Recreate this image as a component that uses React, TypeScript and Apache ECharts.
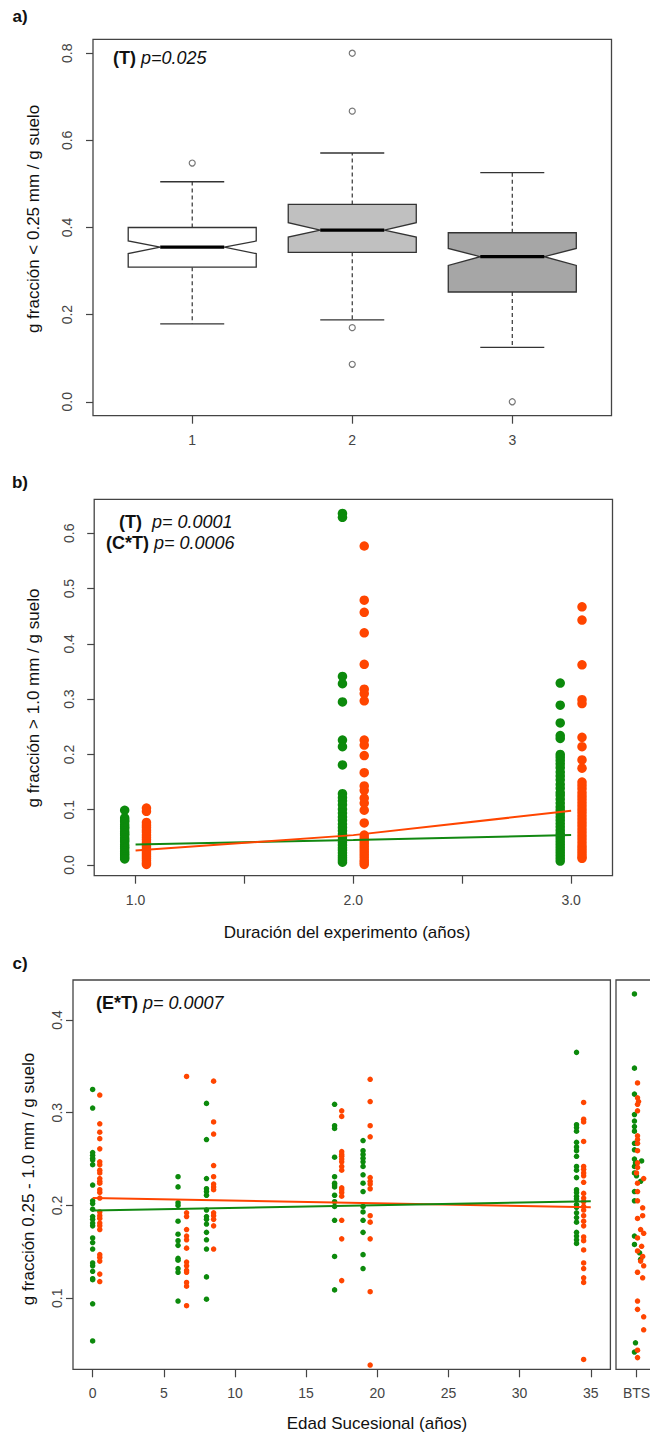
import React, { useEffect, useRef } from "react";
import * as echarts from "echarts";

const FONT = "'Liberation Sans', Arial, sans-serif";
const GREEN = "#0c8a0c";
const ORANGE = "#ff4500";
const FRAME = "#444444";
const TICKTXT = "#444444";

// ---------- Panel a: notched boxplots ----------
const boxPositions = [1, 2, 3];
const boxWhiskerLow = [0.179, 0.188, 0.125];
const boxQ1 = [0.309, 0.343, 0.252];
const boxMedian = [0.355, 0.394, 0.333];
const boxQ3 = [0.4, 0.453, 0.388];
const boxWhiskerHigh = [0.505, 0.571, 0.526];
const boxNotchLow = [0.34, 0.378, 0.313];
const boxNotchHigh = [0.369, 0.411, 0.352];
const boxFill = ["#ffffff", "#c0c0c0", "#a6a6a6"];
const outlierGroup = [1, 2, 2, 2, 2, 3];
const outlierValue = [0.548, 0.8, 0.667, 0.17, 0.086, 0.0];
const aYTicks = [0, 0.2, 0.4, 0.6, 0.8];

// ---------- Panel b: > 1.0 mm fraction vs duration ----------
const bGreen1 = [0.099, 0.085, 0.081, 0.078, 0.073, 0.069, 0.066, 0.061, 0.057, 0.054, 0.049, 0.045, 0.042, 0.037, 0.033, 0.03, 0.025, 0.021, 0.018, 0.014, 0.011];
const bOrange1 = [0.103, 0.097, 0.077, 0.072, 0.068, 0.063, 0.059, 0.054, 0.05, 0.046, 0.041, 0.037, 0.033, 0.028, 0.024, 0.02, 0.016, 0.012, 0.008, 0.004, 0.001];
const bGreen2 = [0.636, 0.629, 0.341, 0.328, 0.295, 0.226, 0.214, 0.181, 0.129, 0.122, 0.116, 0.109, 0.101, 0.094, 0.087, 0.081, 0.074, 0.068, 0.062, 0.056, 0.051, 0.046, 0.041, 0.036, 0.031, 0.027, 0.022, 0.017, 0.013, 0.009, 0.005];
const bOrange2 = [0.577, 0.479, 0.457, 0.42, 0.363, 0.318, 0.31, 0.297, 0.226, 0.217, 0.198, 0.167, 0.143, 0.135, 0.121, 0.112, 0.099, 0.076, 0.054, 0.049, 0.044, 0.039, 0.034, 0.029, 0.024, 0.019, 0.014, 0.009, 0.005, 0.001];
const bGreen3 = [0.329, 0.289, 0.257, 0.234, 0.229, 0.2, 0.195, 0.189, 0.183, 0.176, 0.168, 0.161, 0.154, 0.146, 0.139, 0.131, 0.126, 0.119, 0.112, 0.105, 0.099, 0.093, 0.087, 0.081, 0.075, 0.069, 0.063, 0.057, 0.052, 0.047, 0.042, 0.037, 0.032, 0.027, 0.022, 0.017, 0.012, 0.007];
const bOrange3 = [0.467, 0.443, 0.362, 0.299, 0.292, 0.231, 0.214, 0.19, 0.175, 0.15, 0.144, 0.138, 0.131, 0.125, 0.119, 0.113, 0.107, 0.101, 0.095, 0.089, 0.083, 0.077, 0.071, 0.065, 0.059, 0.053, 0.047, 0.041, 0.035, 0.03, 0.025, 0.02, 0.015, 0.012];
const bGreenX = [0.95, 1.95, 2.95];
const bOrangeX = [1.05, 2.05, 3.05];
const bGreenFit = [[1, 0.037], [2, 0.045], [3, 0.054]];
const bOrangeFit = [[1, 0.026], [2, 0.054], [3, 0.098]];
const bXTicks = [1, 1.5, 2, 2.5, 3];
const bXLabels = [1, 2, 3];
const bYTicks = [0, 0.1, 0.2, 0.3, 0.4, 0.5, 0.6];

// ---------- Panel c: 0.25 - 1.0 mm fraction vs successional age ----------
const cGreenX = [0, 6, 8, 17, 19, 34];
const cOrangeX = [0.5, 6.6, 8.5, 17.5, 19.5, 34.5];
const cGreenVals = [
  [0.325, 0.305, 0.257, 0.254, 0.251, 0.249, 0.244, 0.222, 0.205, 0.202, 0.196, 0.188, 0.185, 0.181, 0.178, 0.165, 0.16, 0.153, 0.138, 0.135, 0.129, 0.121, 0.12, 0.094, 0.054],
  [0.231, 0.22, 0.203, 0.2, 0.183, 0.169, 0.162, 0.157, 0.143, 0.141, 0.132, 0.128, 0.097],
  [0.31, 0.271, 0.229, 0.218, 0.215, 0.211, 0.195, 0.188, 0.185, 0.18, 0.171, 0.163, 0.153, 0.123, 0.099],
  [0.309, 0.286, 0.283, 0.252, 0.231, 0.224, 0.222, 0.22, 0.211, 0.204, 0.199, 0.184, 0.145, 0.109],
  [0.27, 0.259, 0.255, 0.251, 0.247, 0.242, 0.233, 0.224, 0.215, 0.199, 0.193, 0.184, 0.171, 0.147, 0.132],
  [0.365, 0.287, 0.284, 0.28, 0.268, 0.263, 0.259, 0.253, 0.242, 0.238, 0.23, 0.217, 0.214, 0.21, 0.207, 0.201, 0.198, 0.192, 0.187, 0.182, 0.171, 0.167, 0.163, 0.159],
];
const cOrangeVals = [
  [0.319, 0.288, 0.279, 0.272, 0.261, 0.247, 0.244, 0.238, 0.235, 0.229, 0.226, 0.224, 0.217, 0.214, 0.208, 0.193, 0.189, 0.186, 0.181, 0.178, 0.174, 0.147, 0.144, 0.14, 0.126, 0.118],
  [0.339, 0.192, 0.188, 0.174, 0.167, 0.163, 0.154, 0.139, 0.135, 0.13, 0.128, 0.117, 0.113, 0.092],
  [0.334, 0.29, 0.277, 0.243, 0.231, 0.223, 0.22, 0.217, 0.192, 0.189, 0.185, 0.178, 0.153],
  [0.302, 0.296, 0.258, 0.255, 0.253, 0.25, 0.247, 0.242, 0.238, 0.219, 0.217, 0.214, 0.21, 0.184, 0.164, 0.119],
  [0.336, 0.312, 0.286, 0.274, 0.23, 0.226, 0.223, 0.218, 0.189, 0.182, 0.164, 0.107, 0.028],
  [0.311, 0.293, 0.29, 0.269, 0.242, 0.239, 0.235, 0.232, 0.225, 0.213, 0.208, 0.204, 0.199, 0.195, 0.189, 0.183, 0.178, 0.166, 0.162, 0.152, 0.138, 0.132, 0.122, 0.117, 0.034],
];
const cGreenFit = [[0, 0.1945], [35, 0.2045]];
const cOrangeFit = [[0, 0.208], [35, 0.198]];
const cXTicks = [0, 5, 10, 15, 20, 25, 30, 35];
const cYTicks = [0.1, 0.2, 0.3, 0.4];

// BTS reference plot (jittered positions, x in BTS panel units, tick at 1)
const btsGreen = [
  [0.9, 0.428], [0.9, 0.348], [0.9, 0.32], [0.9, 0.298], [0.9, 0.291], [0.9, 0.285], [0.9, 0.28], [0.9, 0.267], [0.9, 0.26], [0.9, 0.25],
  [0.95, 0.246], [1.25, 0.248], [0.9, 0.242], [0.9, 0.235], [1.0, 0.232], [1.2, 0.226], [0.9, 0.215], [0.9, 0.205], [0.9, 0.167], [0.9, 0.158],
  [1.15, 0.149], [1.2, 0.142], [0.95, 0.052], [0.9, 0.042],
];
const btsOrange = [
  [1.05, 0.332], [1.05, 0.316], [1.1, 0.312], [1.05, 0.309], [1.05, 0.302], [1.05, 0.275], [1.05, 0.271], [1.05, 0.267], [1.05, 0.259], [1.05, 0.246],
  [1.05, 0.241], [1.0, 0.235], [1.35, 0.229], [1.05, 0.224], [1.05, 0.215], [1.05, 0.205], [1.3, 0.1975], [1.05, 0.186], [1.3, 0.189], [1.2, 0.174],
  [1.35, 0.17], [1.05, 0.165], [1.25, 0.156], [1.05, 0.151], [1.3, 0.145], [1.2, 0.14], [1.35, 0.135], [1.05, 0.128], [1.3, 0.122], [1.05, 0.097],
  [1.05, 0.088], [1.35, 0.08], [1.35, 0.066], [1.05, 0.044], [1.05, 0.036],
];

const fmt1 = (v: number) => Number(v).toFixed(1);

function xAxisCfg(gridIndex: number, min: number, max: number, ticks: number[], labels: number[], formatter: any) {
  return {
    type: "value",
    gridIndex,
    min,
    max,
    axisLine: { show: false, onZero: false },
    splitLine: { show: false },
    axisTick: { show: true, customValues: ticks, length: 8, inside: false, lineStyle: { color: FRAME, width: 1.2 } },
    axisLabel: { show: true, customValues: labels, margin: 17, fontSize: 14, color: TICKTXT, fontFamily: FONT, formatter },
  };
}

function yAxisCfg(gridIndex: number, min: number, max: number, ticks: number[], margin: number, show = true) {
  return {
    type: "value",
    gridIndex,
    min,
    max,
    axisLine: { show: false, onZero: false },
    splitLine: { show: false },
    axisTick: { show, customValues: ticks, length: 7, inside: false, lineStyle: { color: FRAME, width: 1.2 } },
    axisLabel: { show, customValues: ticks, rotate: 90, margin, fontSize: 14, color: TICKTXT, fontFamily: FONT, formatter: fmt1 },
  };
}

function gridCfg(left: number, top: number, width: number, height: number) {
  return { left, top, width, height, show: true, borderColor: FRAME, borderWidth: 1.3, backgroundColor: "transparent", containLabel: false };
}

function scatter(name: string, xi: number, data: number[][], color: string, size: number) {
  return {
    name,
    type: "scatter",
    xAxisIndex: xi,
    yAxisIndex: xi,
    data,
    symbol: "circle",
    symbolSize: size,
    itemStyle: { color, opacity: 1 },
    z: 2,
  };
}

function fitLine(name: string, xi: number, data: number[][], color: string) {
  return {
    name,
    type: "line",
    xAxisIndex: xi,
    yAxisIndex: xi,
    data,
    showSymbol: false,
    symbol: "none",
    lineStyle: { color, width: 2 },
    z: 4,
  };
}

function textEl(text: string, x: number, y: number, size: number, extra: any = {}, rotation = 0) {
  return {
    type: "text",
    x,
    y,
    rotation,
    style: {
      text,
      fill: "#111",
      fontSize: size,
      fontFamily: FONT,
      align: "center",
      verticalAlign: "middle",
      ...extra,
    },
  };
}

function richText(text: string, x: number, y: number) {
  return {
    type: "text",
    x,
    y,
    style: {
      text,
      fill: "#111",
      fontSize: 18,
      fontFamily: FONT,
      align: "left",
      verticalAlign: "middle",
      rich: {
        b: { fontWeight: "bold", fontSize: 18, fontFamily: FONT, fill: "#111" },
        i: { fontStyle: "italic", fontSize: 18, fontFamily: FONT, fill: "#111" },
      },
    },
  };
}

export default function App() {
  const ref = useRef<HTMLDivElement>(null);

  useEffect(() => {
    document.body.style.margin = "0";
    document.body.style.overflow = "hidden";
    if (!ref.current) return;
    const chart = echarts.init(ref.current, undefined, { renderer: "svg" });

    const boxData = boxPositions.map((p, i) => [
      p, boxWhiskerLow[i], boxQ1[i], boxMedian[i], boxQ3[i], boxWhiskerHigh[i], boxNotchLow[i], boxNotchHigh[i],
    ]);

    const series: any[] = [];

    // Panel a
    series.push({
      name: "boxes",
      type: "custom",
      xAxisIndex: 0,
      yAxisIndex: 0,
      data: boxData,
      encode: { x: 0, y: [1, 2, 3, 4, 5] },
      renderItem: (params: any, api: any) => {
        const i = params.dataIndex;
        const x = api.value(0);
        const lo = api.value(1), q1 = api.value(2), med = api.value(3), q3 = api.value(4), hi = api.value(5);
        const nl = api.value(6), nh = api.value(7);
        const c = (a: number, b: number) => api.coord([a, b]);
        const hw = 0.4, nw = 0.2, cw = 0.2;
        const poly = [
          c(x - hw, q1), c(x - hw, nl), c(x - nw, med), c(x - hw, nh), c(x - hw, q3),
          c(x + hw, q3), c(x + hw, nh), c(x + nw, med), c(x + hw, nl), c(x + hw, q1),
        ];
        const seg = (p1: number[], p2: number[], style: any) => ({
          type: "line",
          shape: { x1: p1[0], y1: p1[1], x2: p2[0], y2: p2[1] },
          style,
        });
        const dash = { stroke: "#333", lineWidth: 1.2, lineDash: [4, 3] };
        const solid = { stroke: "#333", lineWidth: 1.3 };
        return {
          type: "group",
          children: [
            seg(c(x, q3), c(x, hi), dash),
            seg(c(x, q1), c(x, lo), dash),
            seg(c(x - cw, hi), c(x + cw, hi), solid),
            seg(c(x - cw, lo), c(x + cw, lo), solid),
            { type: "polygon", shape: { points: poly }, style: { fill: boxFill[i], stroke: "#333", lineWidth: 1.3 } },
            seg(c(x - nw, med), c(x + nw, med), { stroke: "#000", lineWidth: 3.2 }),
          ],
        };
      },
      z: 2,
    });
    series.push({
      name: "outliers",
      type: "scatter",
      xAxisIndex: 0,
      yAxisIndex: 0,
      data: outlierGroup.map((g, i) => [g, outlierValue[i]]),
      symbol: "circle",
      symbolSize: 6,
      itemStyle: { color: "#ffffff", borderColor: "#555", borderWidth: 1.2 },
      z: 3,
    });

    // Panel b
    const bG = [bGreen1, bGreen2, bGreen3];
    const bO = [bOrange1, bOrange2, bOrange3];
    bG.forEach((vals, k) => series.push(scatter("bGreen" + k, 1, vals.map((v) => [bGreenX[k], v]), GREEN, 9.5)));
    bO.forEach((vals, k) => series.push(scatter("bOrange" + k, 1, vals.map((v) => [bOrangeX[k], v]), ORANGE, 9.5)));
    series.push(fitLine("bGreenFit", 1, bGreenFit, "#118811"));
    series.push(fitLine("bOrangeFit", 1, bOrangeFit, ORANGE));

    // Panel c
    cGreenVals.forEach((vals, k) => series.push(scatter("cGreen" + k, 2, vals.map((v) => [cGreenX[k], v]), GREEN, 5.5)));
    cOrangeVals.forEach((vals, k) => series.push(scatter("cOrange" + k, 2, vals.map((v) => [cOrangeX[k], v]), ORANGE, 5.5)));
    series.push(fitLine("cOrangeFit", 2, cOrangeFit, ORANGE));
    series.push(fitLine("cGreenFit", 2, cGreenFit, "#118811"));
    series.push(scatter("btsGreen", 3, btsGreen, GREEN, 5.5));
    series.push(scatter("btsOrange", 3, btsOrange, ORANGE, 5.5));

    const option: any = {
      animation: false,
      backgroundColor: "#ffffff",
      textStyle: { fontFamily: FONT },
      grid: [
        gridCfg(93, 39.3, 518.5, 376.4),
        gridCfg(94.2, 499.3, 518.3, 376.4),
        gridCfg(73, 980, 537.4, 389.3),
        gridCfg(616, 980, 65.6, 389.3),
      ],
      xAxis: [
        xAxisCfg(0, 0.38, 3.62, boxPositions, boxPositions, (v: number) => String(v)),
        xAxisCfg(1, 0.81, 3.19, bXTicks, bXLabels, fmt1),
        xAxisCfg(2, -1.38, 36.38, cXTicks, cXTicks, (v: number) => String(v)),
        xAxisCfg(3, 0, 3.2, [1], [1], () => "BTS"),
      ],
      yAxis: [
        yAxisCfg(0, -0.032, 0.832, aYTicks, 19),
        yAxisCfg(1, -0.0194, 0.6615, bYTicks, 18),
        yAxisCfg(2, 0.0234, 0.443, cYTicks, 9),
        yAxisCfg(3, 0.0234, 0.443, [], 10, false),
      ],
      series,
      graphic: [
        textEl("a)", 20, 16, 17, { fontWeight: "bold" }),
        textEl("b)", 20, 482, 17, { fontWeight: "bold" }),
        textEl("c)", 20, 963, 17, { fontWeight: "bold" }),
        richText("{b|(T)} {i|p=0.025}", 113, 58),
        richText("{b|(T)}  {i|p= 0.0001}", 119, 522),
        richText("{b|(C*T)} {i|p= 0.0006}", 106, 542.5),
        richText("{b|(E*T)} {i|p= 0.0007}", 96, 1003),
        textEl("g fracción < 0.25 mm / g suelo", 33.5, 219, 17, {}, Math.PI / 2),
        textEl("g fracción > 1.0 mm / g suelo", 33, 698, 17, {}, Math.PI / 2),
        textEl("g fracción 0.25 - 1.0 mm / g suelo", 28.5, 1179, 17, {}, Math.PI / 2),
        textEl("Duración del experimento (años)", 347, 932, 17),
        textEl("Edad Sucesional (años)", 377, 1423, 17),
      ],
    };

    chart.setOption(option);
    return () => {
      chart.dispose();
    };
  }, []);

  return (
    <div style={{ width: 650, height: 1438, overflow: "hidden", position: "relative" }}>
      <div ref={ref} style={{ width: 700, height: 1438 }} />
    </div>
  );
}
